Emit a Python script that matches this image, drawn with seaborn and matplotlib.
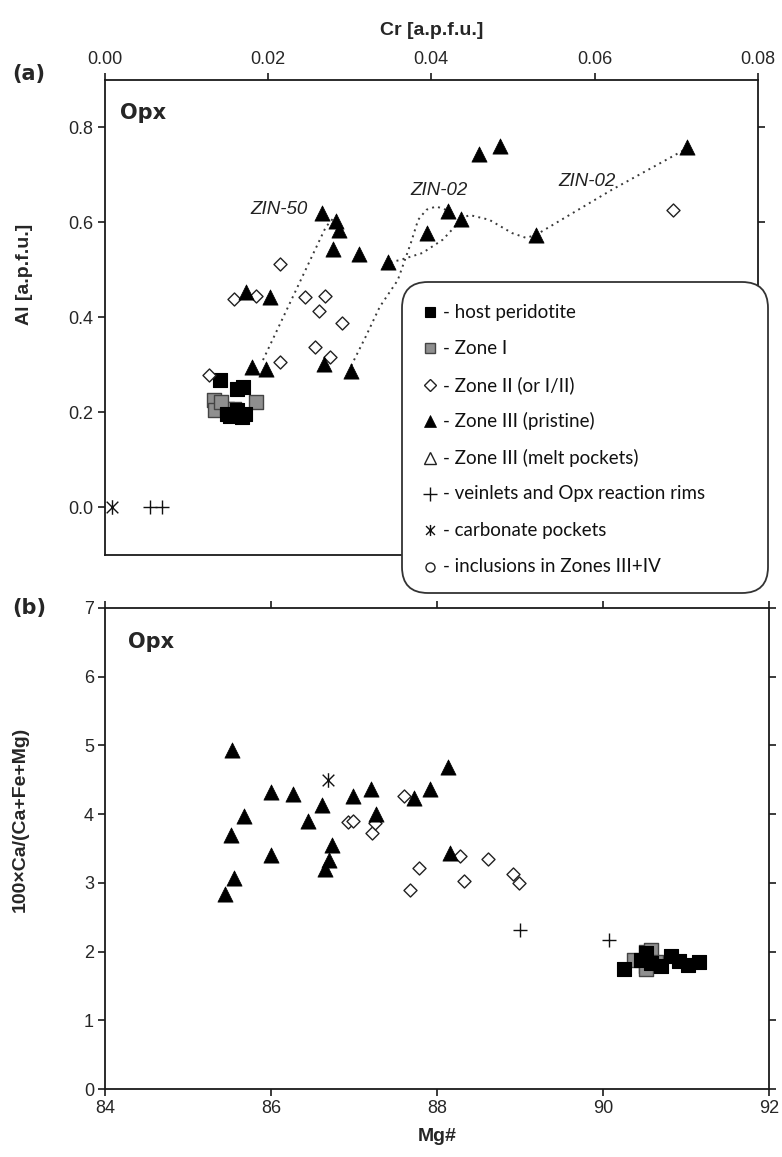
import matplotlib
matplotlib.use("Agg")
import numpy as np
import pandas as pd
import matplotlib.pyplot as plt
import seaborn as sns
from matplotlib.lines import Line2D
from matplotlib.patches import FancyBboxPatch
from matplotlib.path import Path
from matplotlib.ticker import FormatStrFormatter, MultipleLocator

# ---------------- (a) Cr vs Al in orthopyroxene ----------------
host_cr = [0.0141, 0.0162, 0.0169, 0.0154, 0.0168, 0.0150, 0.0162, 0.0172]
host_al = [0.269, 0.249, 0.254, 0.193, 0.191, 0.196, 0.204, 0.196]
zone1_cr = [0.0134, 0.0135, 0.0150, 0.0159, 0.0186, 0.0143]
zone1_al = [0.226, 0.204, 0.207, 0.207, 0.221, 0.221]
zone2_cr = [0.0128, 0.0159, 0.0185, 0.0215, 0.0215, 0.0245, 0.0258, 0.0263, 0.0270, 0.0276, 0.0291, 0.0696]
zone2_al = [0.279, 0.438, 0.445, 0.511, 0.305, 0.443, 0.337, 0.413, 0.445, 0.317, 0.388, 0.626]
zone3_cr = [0.0181, 0.0198, 0.0269, 0.0302, 0.0173, 0.0203, 0.0266, 0.0284, 0.0287, 0.0280,
            0.0311, 0.0347, 0.0395, 0.0420, 0.0436, 0.0458, 0.0484, 0.0528, 0.0713]
zone3_al = [0.296, 0.291, 0.302, 0.286, 0.454, 0.443, 0.619, 0.603, 0.584, 0.543,
            0.533, 0.516, 0.577, 0.624, 0.607, 0.743, 0.761, 0.573, 0.759]
vein_cr = [0.0056, 0.0070]
vein_al = [0.0, 0.0]
carb_cr = [0.0009]
carb_al = [0.0]

# core-to-rim traverses (dotted guides)
zin50_cr = [0.0194, 0.0271, 0.0280]
zin50_al = [0.310, 0.590, 0.608]
zin02a_cr = [0.0302, 0.0320, 0.0337, 0.0359, 0.0375, 0.0384, 0.0394, 0.0406, 0.0418]
zin02a_al = [0.298, 0.360, 0.422, 0.478, 0.556, 0.605, 0.626, 0.633, 0.626]
zin02b_cr = [0.0350, 0.0361, 0.0389, 0.0414, 0.0434]
zin02b_al = [0.516, 0.520, 0.535, 0.563, 0.600]
zin02c_cr = [0.0436, 0.0447, 0.0471, 0.0499, 0.0516, 0.0528, 0.0621, 0.0713]
zin02c_al = [0.607, 0.615, 0.605, 0.577, 0.567, 0.573, 0.668, 0.755]

traverse_labels = ["ZIN-50", "ZIN-02", "ZIN-02"]
traverse_label_cr = [0.0214, 0.0409, 0.0591]
traverse_label_al = [0.626, 0.666, 0.685]

# ---------------- (b) Mg# vs 100*Ca/(Ca+Fe+Mg) ----------------
host_mg = [90.25, 90.46, 90.52, 90.58, 90.70, 90.82, 90.91, 91.03, 91.16]
host_ca = [1.75, 1.88, 1.98, 1.83, 1.79, 1.93, 1.86, 1.80, 1.85]
zone1_mg = [90.37, 90.52, 90.52, 90.58, 90.64, 90.52]
zone1_ca = [1.88, 1.79, 2.00, 2.02, 1.85, 1.75]
zone2_mg = [86.93, 86.99, 87.22, 87.25, 87.60, 87.67, 87.78, 88.28, 88.32, 88.62, 88.91, 88.99]
zone2_ca = [3.89, 3.90, 3.72, 3.87, 4.26, 2.90, 3.21, 3.39, 3.02, 3.34, 3.13, 3.00]
zone3_mg = [85.53, 85.68, 85.52, 85.55, 85.44, 86.00, 86.27, 86.00, 86.44, 86.61,
            86.65, 86.70, 86.73, 86.99, 87.20, 87.27, 87.72, 87.91, 88.13, 88.16]
zone3_ca = [4.94, 3.98, 3.69, 3.07, 2.84, 4.32, 4.30, 3.41, 3.90, 4.14,
            3.20, 3.33, 3.55, 4.26, 4.37, 4.00, 4.23, 4.36, 4.69, 3.43]
vein_mg = [89.00, 90.07]
vein_ca = [2.31, 2.17]
carb_mg = [86.69]
carb_ca = [4.49]

legend_labels = ["- host peridotite", "- Zone I", "- Zone II (or I/II)", "- Zone III (pristine)",
                 "- Zone III (melt pockets)", "- veinlets and Opx reaction rims",
                 "- carbonate pockets", "- inclusions in Zones III+IV"]

# "Ж"-like asterisk: a vertical stroke crossed by an X
ASTER = Path([(0, -1), (0, 1), (-0.8, -0.8), (0.8, 0.8), (-0.8, 0.8), (0.8, -0.8)],
             [Path.MOVETO, Path.LINETO, Path.MOVETO, Path.LINETO, Path.MOVETO, Path.LINETO])

STYLE = {
    "host":  dict(marker="s", s=95, fc="black", ec="black", lw=0.8, z=4),
    "zone1": dict(marker="s", s=95, fc="#8f8f8f", ec="#444444", lw=1.0, z=3),
    "zone2": dict(marker="D", s=44, fc="white", ec="#222222", lw=1.0, z=5),
    "zone3": dict(marker="^", s=120, fc="black", ec="black", lw=0.5, z=6),
    "melt":  dict(marker="^", s=70, fc="white", ec="#222222", lw=1.0, z=6),
    "vein":  dict(marker="+", s=100, fc="#111111", ec="#111111", lw=1.0, z=6),
    "carb":  dict(marker=ASTER, s=110, fc="#111111", ec="#111111", lw=1.0, z=6),
    "incl":  dict(marker="o", s=45, fc="white", ec="#222222", lw=1.0, z=6),
}

sns.set_theme(style="white")
plt.rcParams['font.family'] = ['Liberation Sans Narrow', 'Liberation Sans', 'DejaVu Sans']
plt.rcParams['axes.linewidth'] = 1.3
plt.rcParams['axes.edgecolor'] = '#1a1a1a'

W, H = 782, 1157
fig = plt.figure(figsize=(W / 100, H / 100), dpi=100)
fig.patch.set_facecolor("white")
ax_a = fig.add_axes([104.5 / W, 1 - 555 / H, (758 - 104.5) / W, 475.5 / H])
ax_b = fig.add_axes([105 / W, 1 - 1089 / H, 664 / W, 481 / H])


def draw(ax, x, y, key):
    st = STYLE[key]
    df = pd.DataFrame({"x": x, "y": y})
    sns.scatterplot(data=df, x="x", y="y", ax=ax, marker=st["marker"], s=st["s"],
                    color=st["fc"], edgecolor=st["ec"], linewidth=st["lw"],
                    zorder=st["z"], legend=False)


def guide(ax, x, y):
    df = pd.DataFrame({"x": x, "y": y})
    sns.lineplot(data=df, x="x", y="y", ax=ax, sort=False, estimator=None,
                 color="#3a3a3a", linewidth=1.4, linestyle=(0, (1, 2.2)), zorder=2)


# ---- panel (a)
for cx, cy in [(zin50_cr, zin50_al), (zin02a_cr, zin02a_al), (zin02b_cr, zin02b_al), (zin02c_cr, zin02c_al)]:
    guide(ax_a, cx, cy)
draw(ax_a, zone1_cr, zone1_al, "zone1")
draw(ax_a, host_cr, host_al, "host")
draw(ax_a, zone2_cr, zone2_al, "zone2")
draw(ax_a, zone3_cr, zone3_al, "zone3")
draw(ax_a, vein_cr, vein_al, "vein")
draw(ax_a, carb_cr, carb_al, "carb")
for lab, lx, ly in zip(traverse_labels, traverse_label_cr, traverse_label_al):
    ax_a.text(lx, ly, lab, ha="center", va="center", fontsize=13.5, style="italic",
              family=["Liberation Sans", "DejaVu Sans"], color="#222222", zorder=7)

ax_a.set_xlim(0, 0.08)
ax_a.set_ylim(-0.1, 0.9)
ax_a.xaxis.set_major_locator(MultipleLocator(0.02))
ax_a.xaxis.set_major_formatter(FormatStrFormatter("%.2f"))
ax_a.set_yticks([0.0, 0.2, 0.4, 0.6, 0.8])
ax_a.yaxis.set_major_formatter(FormatStrFormatter("%.1f"))
ax_a.xaxis.tick_top()
ax_a.xaxis.set_label_position("top")
ax_a.tick_params(axis="x", which="both", top=True, bottom=False, labeltop=True, labelbottom=False,
                 direction="out", length=5, width=1.2, labelsize=13, pad=3, color="#1a1a1a")
ax_a.tick_params(axis="y", left=True, right=True, labelleft=True, labelright=False,
                 direction="out", length=5, width=1.2, labelsize=13, pad=3, color="#1a1a1a")
ax_a.set_xlabel("Cr [a.p.f.u.]", fontsize=14, fontweight="bold", labelpad=12)
ax_a.set_ylabel("Al [a.p.f.u.]", fontsize=14, fontweight="bold")
ax_a.yaxis.set_label_coords(-0.11, 0.59)
ax_a.text(0.024, 0.93, "Opx", transform=ax_a.transAxes, fontsize=15, fontweight="bold",
          family="DejaVu Sans", ha="left", va="center")

# ---- panel (b)
draw(ax_b, zone2_mg, zone2_ca, "zone2")
draw(ax_b, zone3_mg, zone3_ca, "zone3")
draw(ax_b, vein_mg, vein_ca, "vein")
draw(ax_b, carb_mg, carb_ca, "carb")
draw(ax_b, host_mg, host_ca, "host")
draw(ax_b, zone1_mg, zone1_ca, "zone1")
ax_b.set_xlim(84, 92)
ax_b.set_ylim(0, 7)
ax_b.set_xticks([84, 86, 88, 90, 92])
ax_b.set_yticks(range(0, 8))
ax_b.tick_params(axis="x", top=True, bottom=True, labeltop=False, labelbottom=True,
                 direction="out", length=5, width=1.2, labelsize=13, pad=3, color="#1a1a1a")
ax_b.tick_params(axis="y", left=True, right=True, labelleft=True, labelright=False,
                 direction="out", length=5, width=1.2, labelsize=13, pad=3, color="#1a1a1a")
ax_b.set_xlabel("Mg#", fontsize=14, fontweight="bold", labelpad=8)
ax_b.set_ylabel("100×Ca/(Ca+Fe+Mg)", fontsize=14, fontweight="bold")
ax_b.yaxis.set_label_coords(-0.115, 0.56)
ax_b.text(0.035, 0.929, "Opx", transform=ax_b.transAxes, fontsize=15, fontweight="bold",
          family="DejaVu Sans", ha="left", va="center")

for ax in (ax_a, ax_b):
    ax.set_facecolor("white")
    for sp in ax.spines.values():
        sp.set_visible(True)
        sp.set_linewidth(1.3)
        sp.set_color("#1a1a1a")

# panel letters
fig.text(12 / W, 1 - 74 / H, "(a)", fontsize=15, fontweight="bold", family="DejaVu Sans",
         ha="left", va="center")
fig.text(12 / W, 1 - 608 / H, "(b)", fontsize=15, fontweight="bold", family="DejaVu Sans",
         ha="left", va="center")

# ---- shared legend box
inch = fig.dpi_scale_trans
box = FancyBboxPatch((402 / 100, (H - 593) / 100), 366 / 100, 311 / 100,
                     boxstyle="round,pad=0,rounding_size=0.26", transform=inch,
                     facecolor="white", edgecolor="#333333", linewidth=1.3, zorder=10)
fig.add_artist(box)
legend_keys = ["host", "zone1", "zone2", "zone3", "melt", "vein", "carb", "incl"]
legend_ms = {"host": 7.5, "zone1": 7.5, "zone2": 5.8, "zone3": 8.5, "melt": 8.5,
             "vein": 9.5, "carb": 8.0, "incl": 6.5}
for i, (key, lab) in enumerate(zip(legend_keys, legend_labels)):
    st = STYLE[key]
    yrow = (H - (312 + i * 36.4)) / 100
    h = Line2D([4.30], [yrow], marker=st["marker"], markersize=legend_ms[key],
               markerfacecolor=st["fc"], markeredgecolor=st["ec"], markeredgewidth=st["lw"],
               linestyle="none", transform=inch, zorder=11)
    fig.add_artist(h)
    fig.text(4.43, yrow, lab, transform=inch, fontsize=13.5, family=["Lato", "DejaVu Sans"],
             ha="left", va="center", color="#111111", zorder=11)

fig.savefig("out.png", dpi=100, facecolor="white")
